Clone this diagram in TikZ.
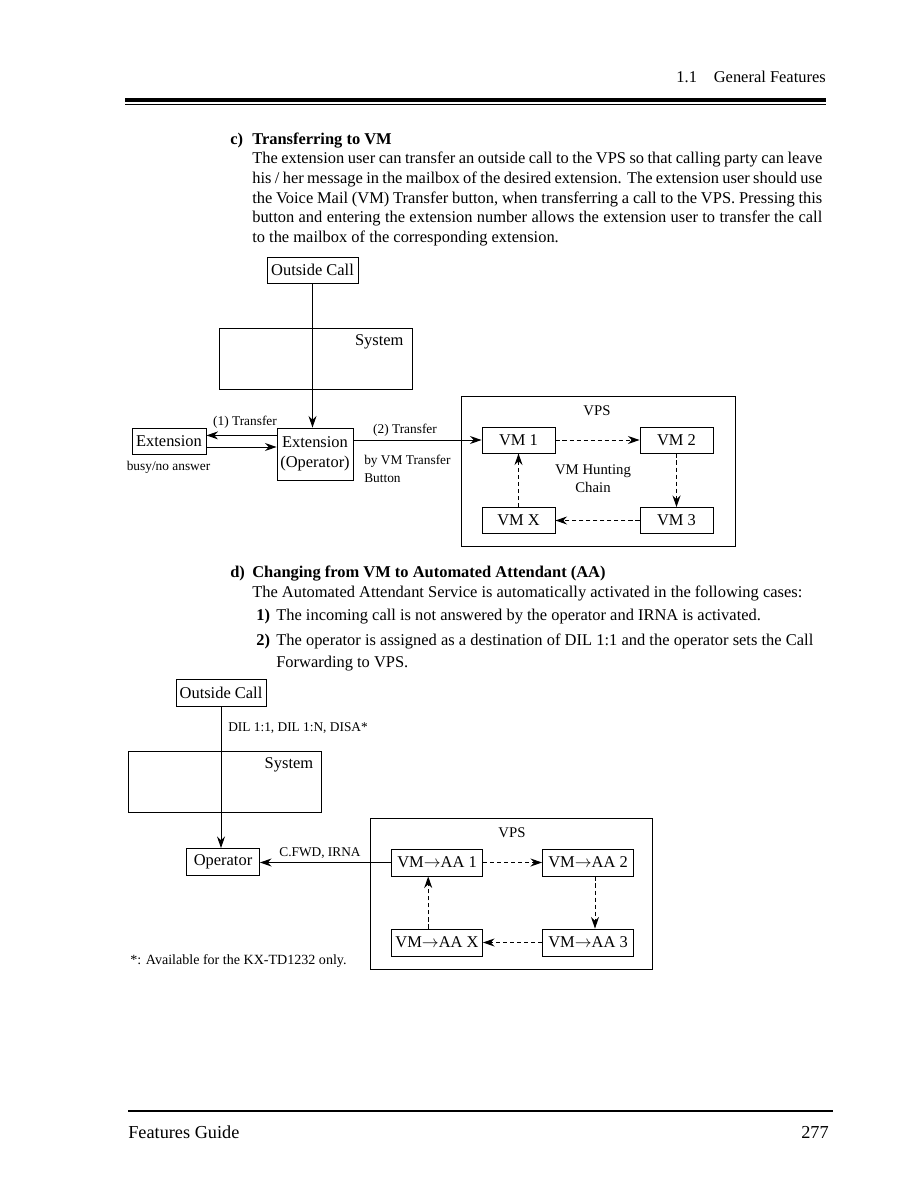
\documentclass[tikz,border=0pt]{standalone}
\usepackage{fontspec}
\setmainfont{Liberation Serif}
\usetikzlibrary{arrows.meta, positioning}
\newcommand{\bodysize}{\fontsize{11.7pt}{16pt}\selectfont}
\newcommand{\boxsize}{\fontsize{11.7pt}{14pt}\selectfont}
\newcommand{\midsize}{\fontsize{10.5pt}{12pt}\selectfont}
\newcommand{\smallsize}{\fontsize{9.5pt}{11.4pt}\selectfont}
\tikzset{
  box/.style    = {rectangle, draw, line width=0.65pt, align=center,
                   font=\boxsize, inner sep=2pt},
  body/.style   = {font=\bodysize, inner sep=0pt},
  bodybf/.style = {font=\bodysize\bfseries, inner sep=0pt},
  lbl/.style    = {font=\smallsize, inner sep=0pt},
  midlbl/.style = {font=\midsize, inner sep=0pt, align=center},
  flow/.style   = {-{Stealth[length=2.9mm, width=2mm]}, line width=0.7pt},
  hunt/.style   = {flow, dash pattern=on 3pt off 2pt},
}

\begin{document}
\begin{tikzpicture}[x=0.25mm, y=-0.25mm]
  \useasboundingbox (0,0) rectangle (918,1188);
  % page head
  \node[font=\fontsize{11.7pt}{14pt}\selectfont, inner sep=0pt, anchor=base east] (head) at (826,83) {1.1\hspace{4.2mm}General Features};
  \draw[line width=1.15mm] (125,100) -- (826,100);
  \draw[line width=0.3mm] (125,104.6) -- (826,104.6);

  % c) text
  \node[bodybf, anchor=base west] (cnum)  at (230,145) {c)};
  \node[bodybf, anchor=base west] (chead) at (252,145) {Transferring to VM};
  \node[body, anchor=base west] (c1) at (252,164) {\makebox[142.5mm][s]{The extension user can transfer an outside call to the VPS so that calling party can leave}};
  \node[body, anchor=base west] (c2) at (252,183.5) {\makebox[142.5mm][s]{his / her message in the mailbox of the desired extension. The extension user should use}};
  \node[body, anchor=base west] (c3) at (252,203) {\makebox[142.5mm][s]{the Voice Mail (VM) Transfer button, when transferring a call to the VPS. Pressing this}};
  \node[body, anchor=base west] (c4) at (252,222.5) {\makebox[142.5mm][s]{button and entering the extension number allows the extension user to transfer the call}};
  \node[body, anchor=base west] (c5) at (252,242) {to the mailbox of the corresponding extension.};

  % transfer to VM
  \node[box, minimum width=22.75mm, minimum height=6.5mm] (call1) at (312.5,270) {Outside Call};
  \node[box, minimum width=48.25mm, minimum height=15.25mm] (sys1) at (316,359) {};
  \node[body, font=\boxsize, anchor=north east] (sys1lbl) at ([xshift=-2.3mm, yshift=-1.6mm]sys1.north east) {System};
  \node[box, minimum width=18.5mm, minimum height=6.5mm] (ext1) at (169,441) {Extension};
  \node[box, minimum width=19mm, minimum height=13mm] (op1) at (315,454) {Extension\\(Operator)};
  \node[box, minimum width=68.5mm, minimum height=37.5mm] (vps1) at (598,471.5) {};
  \node[midlbl] (vps1lbl) at (597,411) {VPS};
  \node[box, minimum width=18.25mm, minimum height=6.5mm] (vm1) at (518.5,440) {VM 1};
  \node[box, minimum width=18.25mm, minimum height=6.5mm] (vm2) at (676.5,440) {VM 2};
  \node[box, minimum width=18.25mm, minimum height=6.5mm] (vm3) at (676.5,520.5) {VM 3};
  \node[box, minimum width=18.25mm, minimum height=6.5mm] (vmx) at (518.5,520.5) {VM X};
  \node[midlbl, font=\fontsize{10.5pt}{12.5pt}\selectfont] (chain) at (593,478.5) {VM Hunting\\Chain};

  \draw[flow] (call1.south) -- (call1.south |- op1.north);
  \coordinate (xfer) at ([yshift=1.4mm]ext1.east);
  \coordinate (back) at ([yshift=-1.5mm]ext1.east);
  \draw[flow] (xfer -| op1.west) -- (xfer);
  \draw[flow] (back) -- (back -| op1.west);
  \draw[flow] (vm1.west -| op1.east) -- (vm1.west);
  \draw[hunt] (vm1) -- (vm2);
  \draw[hunt] (vm2) -- (vm3);
  \draw[hunt] (vm3) -- (vmx);
  \draw[hunt] (vmx) -- (vm1);

  \node[lbl] (t1lbl) at (245,422) {(1) Transfer};
  \node[lbl] (busy) at (168.5,467) {busy/no answer};
  \node[lbl] (t2lbl) at (405,430) {(2) Transfer};
  \node[lbl, align=left, anchor=north west, font=\fontsize{9.5pt}{12.5pt}\selectfont] (btn) at (364,455) {by VM Transfer\\Button};

  % d) text
  \node[bodybf, anchor=base west] (dnum)  at (230,577) {d)};
  \node[bodybf, anchor=base west] (dhead) at (252,577) {Changing from VM to Automated Attendant (AA)};
  \node[body, anchor=base west] (d0) at (252,597) {The Automated Attendant Service is automatically activated in the following cases:};
  \node[bodybf, anchor=base west] (n1) at (256,620) {1)};
  \node[body, anchor=base west] (d1) at (276,620) {The incoming call is not answered by the operator and IRNA is activated.};
  \node[bodybf, anchor=base west] (n2) at (256,645) {2)};
  \node[body, anchor=base west] (d2) at (276,645) {\makebox[134.25mm][s]{The operator is assigned as a destination of DIL 1:1 and the operator sets the Call}};
  \node[body, anchor=base west] (d3) at (276,667) {Forwarding to VPS.};

  % VM to AA
  \node[box, minimum width=22.5mm, minimum height=6.75mm] (call2) at (221,692.5) {Outside Call};
  \node[box, minimum width=48.25mm, minimum height=15.25mm] (sys2) at (224.5,782) {};
  \node[body, font=\boxsize, anchor=north east] (sys2lbl) at ([xshift=-2mm, yshift=-1.6mm]sys2.north east) {System};
  \node[box, minimum width=18.25mm, minimum height=6.75mm] (op2) at (223,862) {Operator};
  \node[box, minimum width=70.5mm, minimum height=37.75mm] (vps2) at (511,893.5) {};
  \node[midlbl] (vps2lbl) at (512,833) {VPS};
  \node[box, minimum width=22.75mm, minimum height=6.75mm] (aa1) at (437,862.5) {VM$\rightarrow$AA 1};
  \node[box, minimum width=22.75mm, minimum height=6.75mm] (aa2) at (588,862.5) {VM$\rightarrow$AA 2};
  \node[box, minimum width=22.75mm, minimum height=6.75mm] (aa3) at (588,942.5) {VM$\rightarrow$AA 3};
  \node[box, minimum width=22.75mm, minimum height=6.75mm] (aax) at (437,942.5) {VM$\rightarrow$AA X};

  \draw[flow] (call2.south) -- (call2.south |- op2.north);
  \draw[flow] (aa1.west) -- (op2.east |- aa1.west);
  \draw[hunt] (aa1) -- (aa2);
  \draw[hunt] ([xshift=1.75mm]aa2.south) -- ([xshift=1.75mm]aa3.north);
  \draw[hunt] (aa3) -- (aax);
  \draw[hunt] ([xshift=-2.2mm]aax.north) -- ([xshift=-2.2mm]aa1.south);

  \node[lbl, anchor=west] (dil) at (228,728) {DIL 1:1, DIL 1:N, DISA*};
  \node[lbl] (fwd) at (320,853) {C.FWD, IRNA};
  \node[lbl, font=\fontsize{10pt}{12pt}\selectfont, anchor=west] (note) at (130,961) {*: Available for the KX-TD1232 only.};

  % page foot
  \draw[line width=0.4mm] (128,1111) -- (833,1111);
  \node[font=\fontsize{13pt}{15pt}\selectfont, inner sep=0pt, anchor=base west] (guide) at (128,1138) {Features Guide};
  \node[font=\fontsize{13pt}{15pt}\selectfont, inner sep=0pt, anchor=base east] (page) at (829,1138) {277};
\end{tikzpicture}
\end{document}
